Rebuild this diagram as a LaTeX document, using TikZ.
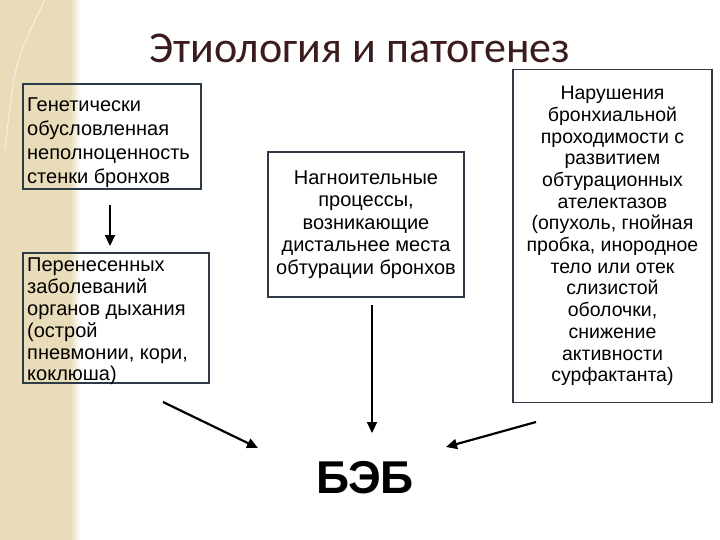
\documentclass[tikz,border=0pt]{standalone}
\usepackage{fontspec}
\setmainfont{Liberation Sans}
\newfontfamily\titlefont{Carlito}
\usetikzlibrary{arrows.meta}
\definecolor{bord}{HTML}{2E3B47}
\definecolor{beige}{HTML}{E9DCB8}
\definecolor{ttl}{HTML}{3B1C1C}
\tikzset{
 box/.style={draw=bord,line width=1.8pt,inner sep=0pt},
 arr/.style={-{Triangle[length=11pt,width=10pt]},line width=2.2pt,black}
}
\begin{document}
\begin{tikzpicture}[x=1pt,y=-1pt]
\useasboundingbox (0,0) rectangle (720,540);
\fill[beige] (0,0) rectangle (70,540);
\shade[left color=beige,right color=white] (70,0) rectangle (80,540);
\draw[white,line width=1pt,opacity=0.6] (45,0) .. controls (15,60) .. (5,150);
\node[text=ttl,font=\titlefont\fontsize{44}{50}\selectfont] (title) at (360,48) {Этиология и патогенез};
\node[box,minimum width=178pt,minimum height=105pt,anchor=north west] (b1) at (22,83) {};
\node[anchor=north west,align=left,inner sep=0pt,font=\fontsize{20}{24}\selectfont] (t1) at (27,98) {Генетически\\обусловленная\\неполноценность\\стенки бронхов};
\node[box,minimum width=186pt,minimum height=130pt,anchor=north west] (b2) at (22,252) {};
\node[anchor=north west,align=left,inner sep=0pt,font=\fontsize{20}{21.8}\selectfont] (t2) at (27,258) {Перенесенных\\заболеваний\\органов дыхания\\(острой\\пневмонии, кори,\\коклюша)};
\node[box,minimum width=196pt,minimum height=145pt,align=center,font=\fontsize{20}{22.5}\selectfont] (b3) at (366,224.5) {Нагноительные\\процессы,\\возникающие\\дистальнее места\\обтурации бронхов};
\node[box,minimum width=199pt,minimum height=333pt,align=center,font=\fontsize{19.5}{21.7}\selectfont] (b4) at (612.5,236) {Нарушения\\бронхиальной\\проходимости с\\развитием\\обтурационных\\ателектазов\\(опухоль, гнойная\\пробка, инородное\\тело или отек\\слизистой\\оболочки,\\снижение\\активности\\сурфактанта)};
\path (b4.north) ++(0,166.5) coordinate (b4c);
\node[font=\bfseries\fontsize{46}{52}\selectfont] (beb) at (365,478) {БЭБ};
\coordinate (a1s) at (110,205); \coordinate (a1e) at (110,246);
\draw[arr] (a1s) -- (a1e);
\coordinate (a2s) at (163,402); \coordinate (a2e) at (258,448);
\draw[arr] (a2s) -- (a2e);
\coordinate (a3s) at (372,305); \coordinate (a3e) at (372,433);
\draw[arr] (a3s) -- (a3e);
\coordinate (a4s) at (536,422); \coordinate (a4e) at (446,447);
\draw[arr] (a4s) -- (a4e);
\end{tikzpicture}
\end{document}
